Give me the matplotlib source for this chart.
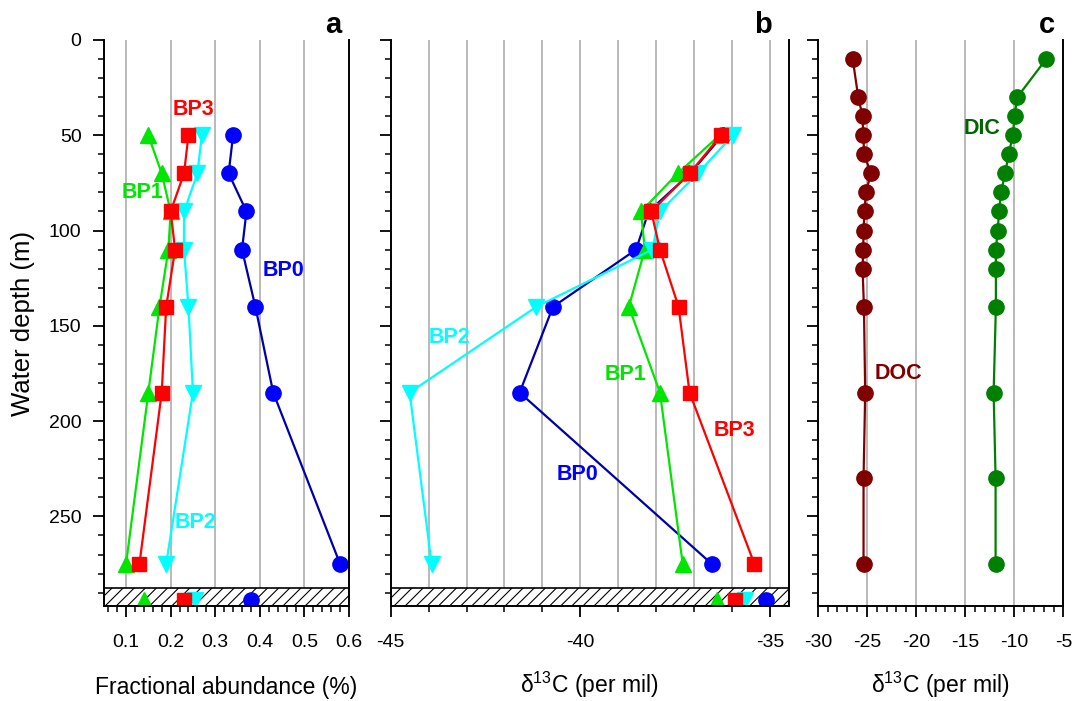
import matplotlib
matplotlib.use("Agg")
import matplotlib.pyplot as plt
from matplotlib.ticker import MultipleLocator
import numpy as np

plt.rcParams['font.family'] = ['Liberation Sans', 'DejaVu Sans']

# water column depths (m) and the sediment sample depth
depth = [50, 70, 90, 110, 140, 185, 275]
sed_depth = 294

# panel a - fractional abundance (%)
bp0_frac = [0.34, 0.33, 0.37, 0.36, 0.39, 0.43, 0.58]
bp1_frac = [0.15, 0.18, 0.20, 0.195, 0.175, 0.15, 0.10]
bp2_frac = [0.27, 0.26, 0.23, 0.23, 0.24, 0.25, 0.19]
bp3_frac = [0.24, 0.23, 0.20, 0.21, 0.19, 0.18, 0.13]
sed_frac = {"BP0": 0.38, "BP1": 0.14, "BP2": 0.255, "BP3": 0.23}

# panel b - d13C of the lipids (per mil)
bp0_d13c = [-36.25, -37.1, -38.2, -38.53, -40.72, -41.6, -36.53]
bp1_d13c = [-36.33, -37.43, -38.4, -38.3, -38.72, -37.9, -37.3]
bp2_d13c = [-35.98, -36.9, -37.9, -38.1, -41.16, -44.5, -43.92]
bp3_d13c = [-36.29, -37.12, -38.13, -37.9, -37.41, -37.12, -35.41]
sed_d13c = {"BP0": -35.1, "BP1": -36.4, "BP2": -35.65, "BP3": -35.91}

# panel c - DOC and DIC d13C
c_depth = [10, 30, 40, 50, 60, 70, 80, 90, 100, 110, 120, 140, 185, 230, 275]
doc_d13c = [-26.44, -25.88, -25.44, -25.37, -25.27, -24.59, -25.1, -25.24,
            -25.34, -25.37, -25.44, -25.3, -25.17, -25.34, -25.34]
dic_d13c = [-6.75, -9.69, -9.97, -10.14, -10.58, -10.92, -11.36, -11.53,
            -11.7, -11.87, -11.87, -11.87, -12.1, -11.9, -11.9]

styles = {
    "BP0": dict(color="#0000a8", marker="o", mfc="#0000ff", ms=11),
    "BP1": dict(color="#00e600", marker="^", mfc="#00e600", ms=11),
    "BP2": dict(color="#00ffff", marker="v", mfc="#00ffff", ms=11),
    "BP3": dict(color="#ff0000", marker="s", mfc="#ff0000", ms=10),
}
label_col = {"BP0": "#0000ff", "BP1": "#00e600", "BP2": "#00ffff", "BP3": "#ff0000"}

fig = plt.figure(figsize=(10.75, 7.01), dpi=100)
ax_a = fig.add_axes([0.0965, 0.1355, 0.2282, 0.8075])
ax_b = fig.add_axes([0.3634, 0.1355, 0.3705, 0.8075])
ax_c = fig.add_axes([0.7607, 0.1355, 0.2285, 0.8075])

grid_col = "#a6a6a6"
ymax = 297

for ax in (ax_a, ax_b, ax_c):
    ax.set_ylim(ymax, 0)
    ax.spines["top"].set_visible(False)
    for s in ("left", "right", "bottom"):
        ax.spines[s].set_linewidth(1.4)
        ax.spines[s].set_zorder(6)
    ax.yaxis.set_major_locator(MultipleLocator(50))
    ax.yaxis.set_minor_locator(MultipleLocator(10))
    ax.tick_params(which="major", direction="out", length=8, width=1.3,
                   labelsize=14, top=False, right=False)
    ax.tick_params(which="minor", direction="out", length=4.5, width=1.1,
                   top=False, right=False)
    ax.tick_params(axis="x", which="major", pad=12)
    ax.tick_params(axis="y", which="major", pad=8)

# ---- panel a
ax_a.set_xlim(0.05, 0.6)
ax_a.xaxis.set_minor_locator(MultipleLocator(0.02))
ax_a.set_xticks([0.1, 0.2, 0.3, 0.4, 0.5, 0.6])
ax_a.set_xticklabels(["0.1", "0.2", "0.3", "0.4", "0.5", "0.6"])
for g in [0.1, 0.2, 0.3, 0.4, 0.5]:
    ax_a.axvline(g, color=grid_col, lw=1.1, zorder=0)

frac = {"BP0": bp0_frac, "BP1": bp1_frac, "BP2": bp2_frac, "BP3": bp3_frac}
for k in ["BP0", "BP1", "BP2", "BP3"]:
    st = styles[k]
    ax_a.plot(frac[k], depth, color=st["color"], lw=1.6, marker=st["marker"],
              mfc=st["mfc"], mec=st["mfc"], ms=st["ms"], zorder=3)
    ax_a.plot([sed_frac[k]], [sed_depth], ls="none", marker=st["marker"],
              mfc=st["mfc"], mec=st["mfc"], ms=st["ms"], zorder=5)

ax_a.set_ylabel("Water depth (m)", fontsize=18.5, labelpad=10)
ax_a.set_xlabel("Fractional abundance (%)", fontsize=16.5, labelpad=18)

lab_a = {"BP3": (0.25, 36.7), "BP1": (0.138, 79.8), "BP0": (0.453, 120.7), "BP2": (0.256, 253)}
for k, (x, y) in lab_a.items():
    ax_a.text(x, y, k, color=label_col[k], fontsize=15.5, fontweight="bold",
              ha="center", va="center", zorder=7)

# ---- panel b
ax_b.set_xlim(-45, -34.5)
ax_b.set_xticks([-45, -40, -35])
ax_b.set_xticklabels(["-45", "-40", "-35"])
ax_b.xaxis.set_minor_locator(MultipleLocator(1))
ax_b.tick_params(axis="y", labelleft=False)
for g in range(-44, -34):
    ax_b.axvline(g, color=grid_col, lw=1.1, zorder=0)

d13c = {"BP0": bp0_d13c, "BP1": bp1_d13c, "BP2": bp2_d13c, "BP3": bp3_d13c}
for k in ["BP0", "BP1", "BP2", "BP3"]:
    st = styles[k]
    ax_b.plot(d13c[k], depth, color=st["color"], lw=1.6, marker=st["marker"],
              mfc=st["mfc"], mec=st["mfc"], ms=st["ms"], zorder=3)
    ax_b.plot([sed_d13c[k]], [sed_depth], ls="none", marker=st["marker"],
              mfc=st["mfc"], mec=st["mfc"], ms=st["ms"], zorder=5)

d13c_label = r"$\mathregular{\delta^{13}}$C (per mil)"
ax_b.set_xlabel(d13c_label, fontsize=16.5, labelpad=14)

lab_b = {"BP2": (-43.44, 155.9), "BP1": (-38.81, 175.3), "BP3": (-35.94, 204.7), "BP0": (-40.07, 227.8)}
for k, (x, y) in lab_b.items():
    ax_b.text(x, y, k, color=label_col[k], fontsize=15.5, fontweight="bold",
              ha="center", va="center", zorder=7)

# sediment band (hatched) in panels a and b
plt.rcParams['hatch.linewidth'] = 0.8
for ax in (ax_a, ax_b):
    ax.axhspan(287.5, ymax, facecolor="white", edgecolor="black", hatch="///",
               lw=1.2, zorder=4)

# ---- panel c
ax_c.set_xlim(-30, -5)
ax_c.set_xticks([-30, -25, -20, -15, -10, -5])
ax_c.set_xticklabels(["-30", "-25", "-20", "-15", "-10", "-5"])
ax_c.xaxis.set_minor_locator(MultipleLocator(1))
ax_c.tick_params(axis="y", labelleft=False)
for g in [-25, -20, -15, -10]:
    ax_c.axvline(g, color=grid_col, lw=1.1, zorder=0)

ax_c.plot(doc_d13c, c_depth, color="#800000", lw=1.6, marker="o", ms=11,
          mfc="#800000", mec="#800000", zorder=3)
ax_c.plot(dic_d13c, c_depth, color="#008000", lw=1.6, marker="o", ms=11,
          mfc="#008000", mec="#008000", zorder=3)
ax_c.text(-13.24, 46.2, "DIC", color="#006400", fontsize=15.5, fontweight="bold",
          ha="center", va="center")
ax_c.text(-21.8, 174.8, "DOC", color="#800000", fontsize=15.5, fontweight="bold",
          ha="center", va="center")
ax_c.set_xlabel(d13c_label, fontsize=16.5, labelpad=14)

# panel letters
for ax, letter in ((ax_a, "a"), (ax_b, "b"), (ax_c, "c")):
    ax.text(0.935, 1.002, letter, transform=ax.transAxes, fontsize=21,
            fontweight="bold", ha="center", va="bottom")

plt.savefig("out.png", dpi=100)
